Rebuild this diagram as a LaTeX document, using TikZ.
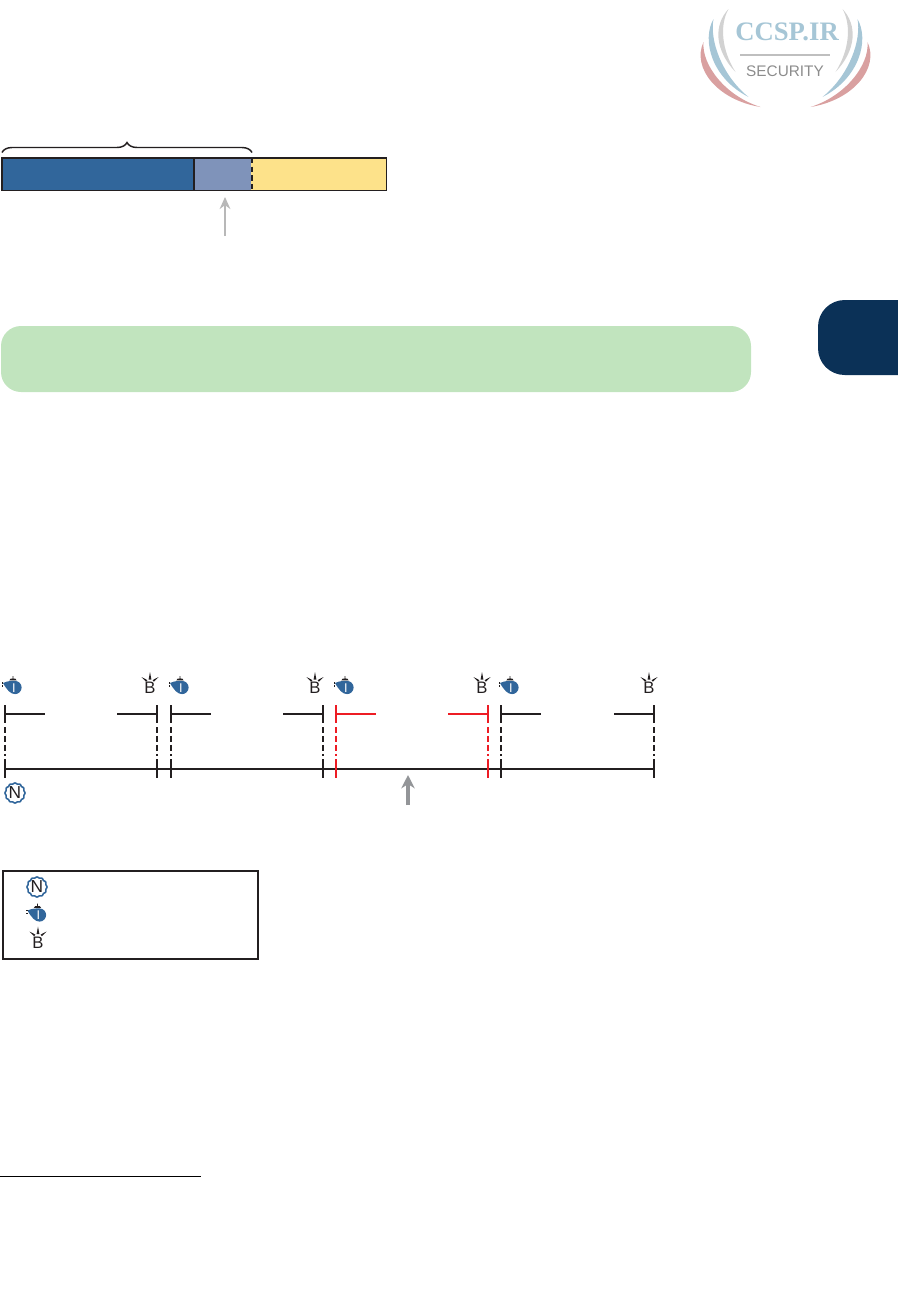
\documentclass[tikz,border=0pt]{standalone}
\usepackage{fontspec}
\setmainfont{Liberation Serif}
\setsansfont{Liberation Sans}
\usetikzlibrary{arrows.meta, decorations.pathreplacing}

\definecolor{inkdark}{HTML}{231F20}
\definecolor{seqblue}{HTML}{31669B}
\definecolor{ackblue}{HTML}{7F93BA}
\definecolor{winyellow}{HTML}{FDE28A}
\definecolor{notegreen}{HTML}{C1E4BE}
\definecolor{tabnavy}{HTML}{0B3157}
\definecolor{flowred}{HTML}{ED1C24}
\definecolor{arrowgray}{HTML}{939598}
\definecolor{logoblue}{HTML}{A6C6D6}
\definecolor{logored}{HTML}{D9A0A0}
\definecolor{logogray}{HTML}{D2D2D2}

\tikzset{
  hairline/.style={line width=1.3pt, inkdark},
  dashline/.style={line width=1.3pt, dash pattern=on 4.5pt off 2.2pt},
  %% scalloped circle with the N
  iconn/.pic={
    \draw[seqblue, line width=1.2pt, fill=white, domain=0:360, samples=145, smooth]
      plot ({(9.6+0.4*cos(12*\x))*cos(\x)}, {(9.6+0.4*cos(12*\x))*sin(\x)}) -- cycle;
    \node[inner sep=0pt, text=inkdark, font=\sffamily\fontsize{13}{13}\selectfont] (letter) at (0,0) {N};
  },
  %% teardrop with the I
  iconi/.pic={
    \fill[seqblue] (-10,-4.5) .. controls (-5,-6.8) and (-1,-6.6) .. (2,-6.6)
      .. controls (5.8,-6.6) and (8.6,-3.6) .. (8.6,0)
      .. controls (8.6,3.6) and (5.8,6.6) .. (2,6.6)
      .. controls (-2.5,6.6) and (-6,2.5) .. (-10,-4.5) -- cycle;
    \fill[inkdark] (-3.6,-7.2) -- (3.6,-7.2) -- (2.2,-9) -- (0.5,-9) -- (0.4,-11.5) -- (-0.4,-11.5) -- (-0.5,-9) -- (-2.2,-9) -- cycle;
    \fill[inkdark] (-11.5,-5.4) rectangle (-9.7,-3.6);
    \fill[inkdark] (-11.5,-2.2) rectangle (-9.9,-0.6);
    \node[inner sep=0pt, text=white, font=\sffamily\fontsize{9.5}{9.5}\selectfont] (letter) at (1,0.2) {I};
  },
  %% B with its sparks
  iconb/.pic={
    \fill[inkdark] (0,-15.5) -- (1.4,-8) -- (-1.4,-8) -- cycle;
    \fill[inkdark] (-8.5,-10.5) -- (-2.6,-7.4) -- (-3.8,-5.8) -- cycle;
    \fill[inkdark] (8.5,-10.5) -- (2.6,-7.4) -- (3.8,-5.8) -- cycle;
    \node[inner sep=0pt, text=inkdark, font=\sffamily\fontsize{12.5}{12.5}\selectfont] (letter) at (0,0.5) {B};
  }
}

\begin{document}
\begin{tikzpicture}[x=0.75pt, y=-0.75pt, >=stealth]
    \useasboundingbox (0,0) rectangle (897,1314);

    %% logo
    \node[inner sep=0pt, text=logoblue, font=\fontsize{20}{20}\selectfont\bfseries] (logotitle) at (787,32) {CCSP.IR};
    \node[inner sep=0pt, text=black!45, font=\sffamily\fontsize{11.5}{11.5}\selectfont] (logosub) at (785,71) {SECURITY};
    \draw[black!25, line width=2pt] (740,55) -- (830,55);
    \foreach \s in {1,-1} {
      \begin{scope}[shift={(785.5,0)}, xscale=\s]
        \fill[logogray] (-57,9) .. controls (-72,25) and (-71,50) .. (-50,72)
          .. controls (-64,50) and (-66,25) .. (-57,9) -- cycle;
        \fill[logoblue] (-72,19) .. controls (-84,40) and (-74,78) .. (-37,97)
          .. controls (-64,75) and (-76,40) .. (-72,19) -- cycle;
        \fill[logored] (-82,42) .. controls (-94,68) and (-68,100) .. (-25,107)
          .. controls (-60,96) and (-84,65) .. (-82,42) -- cycle;
      \end{scope}
    }

    %% chapter tab
    \fill[tabnavy, rounded corners=20pt] (818,300) rectangle (930,375);

    %% segment bar
    \fill[seqblue] (2,158) rectangle (194,190.5);
    \fill[ackblue] (194,158) rectangle (252,190.5);
    \fill[winyellow] (252,158) rectangle (386.5,190.5);
    \draw[hairline] (252,190.5) -- (2,190.5) -- (2,158) -- (252,158);
    \draw[hairline] (252,158) -- (386.5,158) -- (386.5,190.5) -- (252,190.5);
    \draw[hairline] (194,158) -- (194,190.5);
    \draw[winyellow, line width=1.3pt] (252,158.6) -- (252,189.9);
    \draw[hairline, dash pattern=on 4pt off 2.5pt] (252,158) -- (252,190.5);
    \draw[inkdark, line width=1.1pt, decorate, decoration={brace, amplitude=7.5pt}]
      (2,152.5) -- (252,152.5);
    \draw[-{Stealth[length=9pt, width=8pt]}, black!28, line width=1.5pt] (225,236) -- (225,197);

    %% green note
    \fill[notegreen, rounded corners=15pt] (1,326) rectangle (751,392);

    %% timeline
    \draw[hairline] (5,769) -- (654,769);
    \foreach \xa/\xb/\col in {5/157/inkdark, 171/323/inkdark, 336/488/flowred, 501/654/inkdark} {
      \draw[\col, line width=1.3pt] (\xa,705) -- (\xa,723);
      \draw[\col, line width=1.3pt] (\xb,705) -- (\xb,723);
      \draw[\col, line width=1.3pt] (\xa,714) -- ++(40,0);
      \draw[\col, line width=1.3pt] (\xb,714) -- ++(-40,0);
      \draw[\col, dashline] (\xa,727) -- (\xa,756);
      \draw[\col, dashline] (\xb,727) -- (\xb,756);
      \draw[\col, line width=1.3pt] (\xa,759) -- (\xa,778);
      \draw[\col, line width=1.3pt] (\xb,759) -- (\xb,778);
    }
    \foreach \n/\xi/\xb in {1/13/150, 2/180/315, 3/345/482, 4/510/649} {
      \pic (segi\n) at (\xi,687.5) {iconi};
      \pic (segb\n) at (\xb,687.5) {iconb};
    }
    \pic (segn) at (15,793) {iconn};
    \draw[-{Stealth[length=10pt, width=10pt]}, arrowgray, line width=3.2pt] (408,805) -- (408,775);

    %% legend
    \node[draw=inkdark, line width=1.3pt, inner sep=0pt, minimum width=254.5*0.75pt, minimum height=87.5*0.75pt] (legendbox) at (130.5,915) {};
    \pic (legn) at (37,887) {iconn};
    \pic (legi) at (37.5,915) {iconi};
    \pic (legb) at (38,942) {iconb};

    %% footnote rule
    \draw[black, line width=0.7pt] (0,1176) -- (201,1176);
\end{tikzpicture}
\end{document}
